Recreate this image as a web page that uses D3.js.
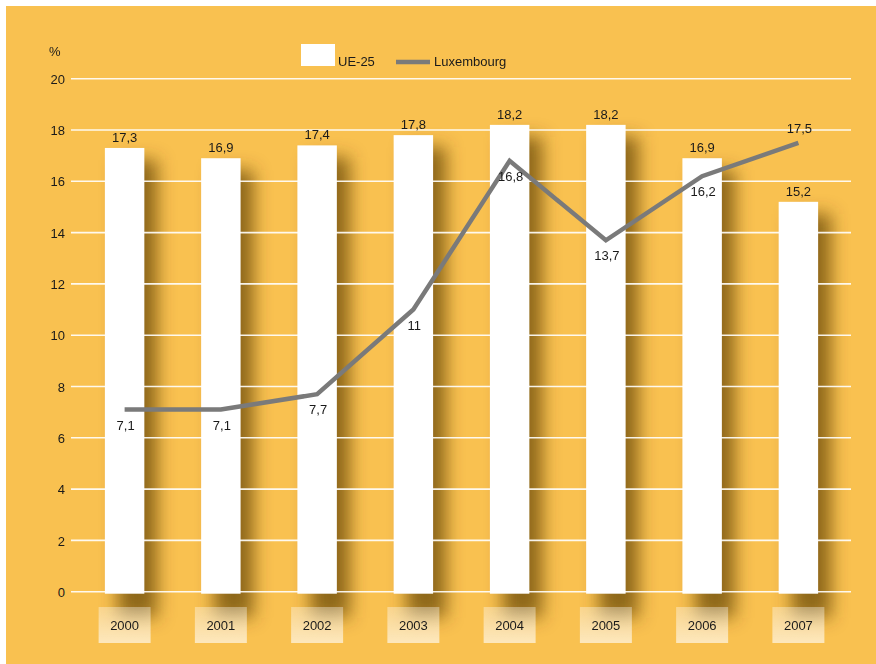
<!DOCTYPE html>
<html>
<head>
<meta charset="utf-8">
<script src="https://cdn.jsdelivr.net/npm/d3@7"></script>
<style>
  html, body { margin: 0; padding: 0; background: #fff; }
  svg { display: block; font-family: "Liberation Sans", Arial, Helvetica, sans-serif; }
</style>
</head>
<body>
<script>
// Data
const years = ["2000", "2001", "2002", "2003", "2004", "2005", "2006", "2007"];
const ue25 = [17.3, 16.9, 17.4, 17.8, 18.2, 18.2, 16.9, 15.2];
const luxembourg = [7.1, 7.1, 7.7, 11, 16.8, 13.7, 16.2, 17.5];
const yTicks = [0, 2, 4, 6, 8, 10, 12, 14, 16, 18, 20];
const seriesNames = ["UE-25", "Luxembourg"];

const W = 876, H = 664;
const fmt = v => String(v).replace(".", ",");

const svg = d3.select("body").append("svg").attr("width", W).attr("height", H);

const defs = svg.append("defs");
defs.append("filter").attr("id", "shadowBlur")
  .attr("x", "-80%").attr("y", "-20%").attr("width", "260%").attr("height", "140%")
  .append("feGaussianBlur").attr("stdDeviation", 8.5);
const boxGrad = defs.append("linearGradient").attr("id", "boxGrad")
  .attr("x1", 0).attr("y1", 0).attr("x2", 0).attr("y2", 1);
boxGrad.append("stop").attr("offset", "0%").attr("stop-color", "#fff").attr("stop-opacity", 0.35);
boxGrad.append("stop").attr("offset", "100%").attr("stop-color", "#fff").attr("stop-opacity", 0.62);

// Background panel
svg.append("rect").attr("x", 6).attr("y", 6).attr("width", W - 6).attr("height", H - 6)
  .attr("fill", "#F9C150");

const x = d3.scaleBand().domain(years).range([76, 847]).paddingInner(0.59).paddingOuter(0.3);
const y = d3.scaleLinear().domain([0, 20]).range([591.7, 78.7]);

// Bar shadows
svg.append("g").attr("filter", "url(#shadowBlur)")
  .selectAll("rect").data(ue25).join("rect")
  .attr("x", (d, i) => x(years[i]) + 13)
  .attr("y", d => y(d) + 12)
  .attr("width", x.bandwidth())
  .attr("height", d => y(0) - y(d) + 14)
  .attr("fill", "#5a3c08").attr("opacity", 0.68);

// Gridlines and y labels
const grid = svg.append("g");
grid.selectAll("line").data(yTicks).join("line")
  .attr("x1", 71).attr("x2", 851)
  .attr("y1", d => y(d)).attr("y2", d => y(d))
  .attr("stroke", "#fff").attr("stroke-opacity", 0.9).attr("stroke-width", 1.6);

const yAxis = d3.axisLeft(y).tickValues(yTicks).tickSize(0).tickPadding(0);
const yg = svg.append("g").attr("transform", "translate(65,0)").call(yAxis);
yg.select(".domain").remove();
yg.selectAll("text").attr("font-size", 13).attr("fill", "#1a1a1a").attr("dy", "0.36em")
  .attr("font-family", "Liberation Sans, Arial, sans-serif");

svg.append("text").attr("x", 49).attr("y", 56).attr("font-size", 13).attr("fill", "#1a1a1a").text("%");

// Year boxes
const xg = svg.append("g");
xg.selectAll("rect").data(years).join("rect")
  .attr("x", d => x(d) + x.bandwidth() / 2 - 26)
  .attr("y", 607).attr("width", 52).attr("height", 36)
  .attr("fill", "url(#boxGrad)");
xg.selectAll("text").data(years).join("text")
  .attr("x", d => x(d) + x.bandwidth() / 2)
  .attr("y", 630).attr("text-anchor", "middle")
  .attr("font-size", 13).attr("fill", "#1a1a1a").text(d => d);

// Bars
svg.append("g").selectAll("rect").data(ue25).join("rect")
  .attr("x", (d, i) => x(years[i]))
  .attr("y", d => y(d))
  .attr("width", x.bandwidth())
  .attr("height", d => y(0) - y(d) + 2)
  .attr("fill", "#fff");

svg.append("g").selectAll("text").data(ue25).join("text")
  .attr("x", (d, i) => x(years[i]) + x.bandwidth() / 2)
  .attr("y", d => y(d) - 6)
  .attr("text-anchor", "middle").attr("font-size", 13).attr("fill", "#1a1a1a")
  .text(d => fmt(d));

// Luxembourg line
const cx = i => x(years[i]) + x.bandwidth() / 2;
const line = d3.line().x((d, i) => cx(i)).y(d => y(d));
svg.append("path").datum(luxembourg).attr("d", line)
  .attr("fill", "none").attr("stroke", "#7a7a7a").attr("stroke-width", 4.5)
  .attr("stroke-linejoin", "miter");

svg.append("g").selectAll("text").data(luxembourg).join("text")
  .attr("x", (d, i) => cx(i) + 1)
  .attr("y", (d, i) => i === luxembourg.length - 1 ? y(d) - 10 : y(d) + 20)
  .attr("text-anchor", "middle").attr("font-size", 13).attr("fill", "#1a1a1a")
  .text(d => fmt(d));

// Legend
const lg = svg.append("g");
lg.append("rect").attr("x", 301).attr("y", 44).attr("width", 34).attr("height", 22).attr("fill", "#fff");
lg.append("text").attr("x", 338).attr("y", 66).attr("font-size", 13).attr("fill", "#1a1a1a").text(seriesNames[0]);
lg.append("line").attr("x1", 396).attr("x2", 430).attr("y1", 62).attr("y2", 62)
  .attr("stroke", "#7a7a7a").attr("stroke-width", 4.5);
lg.append("text").attr("x", 434).attr("y", 66).attr("font-size", 13).attr("fill", "#1a1a1a").text(seriesNames[1]);
</script>
</body>
</html>
